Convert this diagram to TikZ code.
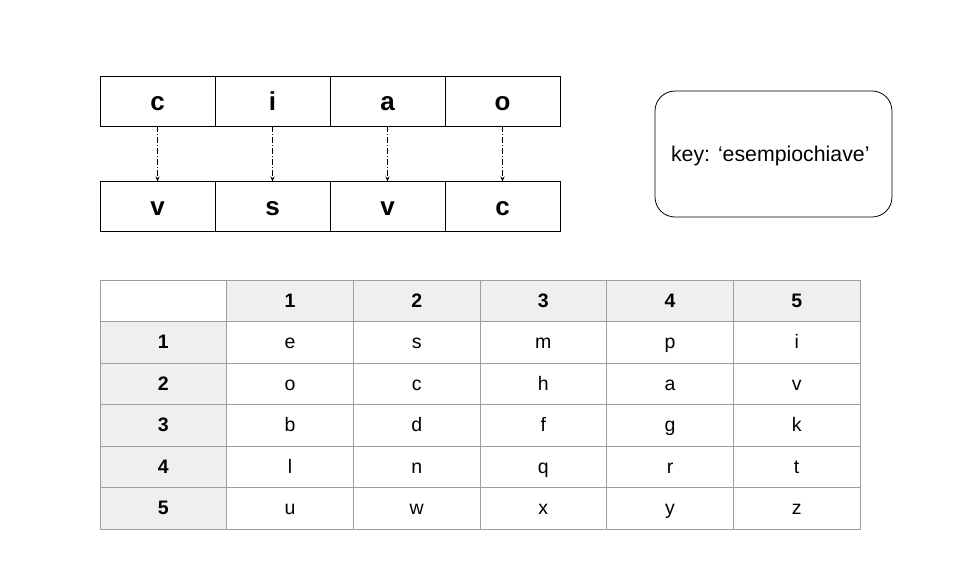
\documentclass[tikz,border=0pt]{standalone}
\usepackage{fontspec}
\setmainfont{Liberation Sans}
\usetikzlibrary{arrows.meta}
\definecolor{gridgray}{HTML}{9E9E9E}
\definecolor{headfill}{HTML}{EFEFEF}
\tikzset{
  letterbox/.style={draw=black, line width=0.8pt, minimum width=115pt, minimum height=50pt,
    inner sep=0pt, outer sep=0pt, text height=18.6pt, text depth=0pt,
    font=\fontsize{26}{30}\selectfont\bfseries},
  maparrow/.style={line width=0.6pt, dash pattern=on 6pt off 2pt on 1pt off 2pt,
    -{Stealth[length=5pt,width=4pt]}},
  keybox/.style={draw=black, line width=0.8pt, rounded corners=20pt, minimum width=237pt,
    minimum height=126pt, inner sep=0pt},
  keytext/.style={inner sep=0pt, font=\fontsize{21.3}{25}\selectfont},
  cell/.style={draw=gridgray, line width=0.8pt, minimum width=126.67pt, minimum height=41.5pt,
    inner sep=0pt, outer sep=0pt, text height=13.2pt, text depth=0pt,
    font=\fontsize{19.5}{23}\selectfont},
  headcell/.style={cell, fill=headfill, font=\fontsize{19.5}{23}\selectfont\bfseries},
}
\begin{document}
\begin{tikzpicture}[x=1pt, y=-1pt]
\useasboundingbox (0,0) rectangle (960,574);

% plaintext and ciphertext letters
\foreach \p/\q [count=\i] in {c/v, i/s, a/v, o/c} {
  \node[letterbox] (p\i) at ({100+57.5+115*(\i-1)}, 101) {\p};
  \node[letterbox] (q\i) at ({100+57.5+115*(\i-1)}, 206.5) {\q};
}
\foreach \i in {1,...,4}
  \draw[maparrow] (p\i.south) -- (q\i.north);

% key
\node[keybox] (key) at (773.5, 154) {};
\node[keytext] (keylabel) at (770.3, 156) {key: ‘esempiochiave’};

% Polybius square
\node[cell] (t-0-0) at ({100+63.33}, {280+20.75}) {};
\foreach \c in {1,...,5} {
  \node[headcell] (t-0-\c) at ({100+126.67*\c+63.33}, {280+20.75}) {\c};
  \node[headcell] (t-\c-0) at ({100+63.33}, {280+41.5*\c+20.75}) {\c};
}
\foreach \row [count=\r] in {{e,s,m,p,i},{o,c,h,a,v},{b,d,f,g,k},{l,n,q,r,t},{u,w,x,y,z}} {
  \foreach \ch [count=\c] in \row {
    \node[cell] (t-\r-\c) at ({100+126.67*\c+63.33}, {280+41.5*\r+20.75}) {\ch};
  }
}
\end{tikzpicture}
\end{document}
